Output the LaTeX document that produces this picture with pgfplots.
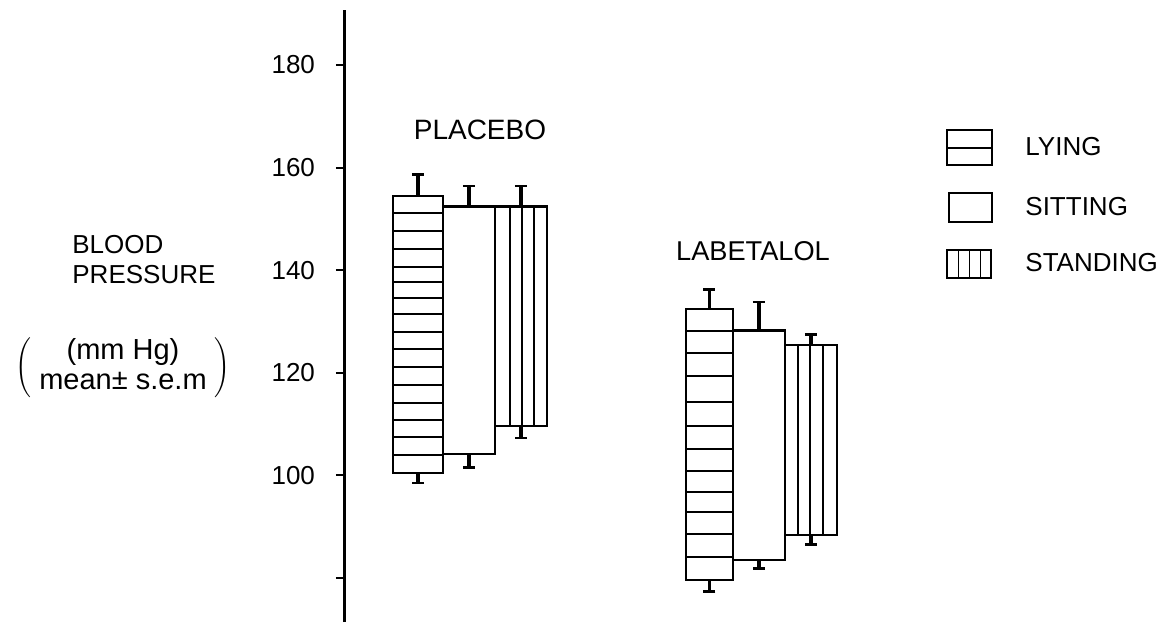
\documentclass[border=0pt]{standalone}
\usepackage{pgfplots}
\pgfplotsset{compat=1.18}
\usepackage{fontspec}
\setmainfont{Liberation Sans}
\begin{document}
\fontsize{13}{15}\selectfont
\begin{tikzpicture}
\begin{axis}[
  scale only axis, width=409pt, height=306pt,
  xmin=345, xmax=1163, ymin=71.42, ymax=190.72,
  axis x line=none, axis y line*=left,
  y axis line style={line width=1.5pt},
  ytick={80,100,120,140,160,180},
  yticklabels={,100,120,140,160,180},
  yticklabel style={xshift=-6pt},
  tick align=outside, major tick length=4.5pt,
  tick style={line width=1pt, black},
  clip=false,
  unbounded coords=jump,
  every axis plot/.append style={mark=none},
  bar/.style={draw=black, fill=white, line width=1.3pt, mark=none},
  inner/.style={draw=black, line width=0.9pt, mark=none},
  legend style={draw=none, fill=none, at={(axis description cs:0.7274,0.812)}, anchor=north west,
    row sep=13pt, font=\fontsize{13}{15}\selectfont,
    /tikz/every odd column/.append style={column sep=14pt}},
  legend cell align=left,
]
% legend images
\addlegendimage{legend image code/.code={\draw[line width=1pt] (0pt,-8.75pt) rectangle (22.5pt,8.75pt); \draw[line width=0.9pt] (0pt,0pt)--(22.5pt,0pt);}}
\addlegendentry{LYING}
\addlegendimage{legend image code/.code={\draw[line width=1pt] (1pt,-7.25pt) rectangle (22.5pt,7.25pt);}}
\addlegendentry{SITTING}
\addlegendimage{legend image code/.code={\draw[line width=1pt] (0pt,-7pt) rectangle (22pt,7pt); \draw[line width=0.9pt] (5.5pt,-7pt)--(5.5pt,7pt) (11pt,-7pt)--(11pt,7pt) (16.5pt,-7pt)--(16.5pt,7pt);}}
\addlegendentry{STANDING}

% ---------- PLACEBO ----------
\addplot[bar] coordinates {(393,100.5)(393,154.5)(443,154.5)(443,100.5)} -- cycle;
\addplot[inner] coordinates {
 (393,151.15)(443,151.15)(443,nan)
 (393,147.64)(443,147.64)(443,nan)
 (393,144.13)(443,144.13)(443,nan)
 (393,140.62)(443,140.62)(443,nan)
 (393,137.70)(443,137.70)(443,nan)
 (393,134.58)(443,134.58)(443,nan)
 (393,131.46)(443,131.46)(443,nan)
 (393,127.95)(443,127.95)(443,nan)
 (393,124.64)(443,124.64)(443,nan)
 (393,121.13)(443,121.13)(443,nan)
 (393,117.62)(443,117.62)(443,nan)
 (393,114.11)(443,114.11)(443,nan)
 (393,110.80)(443,110.80)(443,nan)
 (393,107.49)(443,107.49)(443,nan)
 (393,103.98)(443,103.98)};
\addplot[bar] coordinates {(443,104.2)(443,152.4)(495,152.4)(495,104.2)} -- cycle;
\addplot[bar] coordinates {(495,109.6)(495,152.4)(547,152.4)(547,109.6)} -- cycle;
\addplot[inner] coordinates {
 (510,109.6)(510,152.4)(510,nan)
 (522,109.6)(522,152.4)(522,nan)
 (534,109.6)(534,152.4)};

% ---------- LABETALOL ----------
\addplot[bar] coordinates {(686,79.6)(686,132.4)(733,132.4)(733,79.6)} -- cycle;
\addplot[inner] coordinates {
 (686,128.15)(733,128.15)(733,nan)
 (686,123.86)(733,123.86)(733,nan)
 (686,119.38)(733,119.38)(733,nan)
 (686,114.31)(733,114.31)(733,nan)
 (686,109.63)(733,109.63)(733,nan)
 (686,105.15)(733,105.15)(733,nan)
 (686,100.86)(733,100.86)(733,nan)
 (686,96.76)(733,96.76)(733,nan)
 (686,92.86)(733,92.86)(733,nan)
 (686,88.58)(733,88.58)(733,nan)
 (686,84.09)(733,84.09)};
\addplot[bar] coordinates {(733,83.5)(733,128.2)(785,128.2)(785,83.5)} -- cycle;
\addplot[bar] coordinates {(785,88.4)(785,125.4)(837,125.4)(837,88.4)} -- cycle;
\addplot[inner] coordinates {
 (798,88.4)(798,125.4)(798,nan)
 (810,88.4)(810,125.4)(810,nan)
 (823,88.4)(823,125.4)};

% ---------- error bars (s.e.m.) ----------
\addplot[draw=none, mark=none, error bars/.cd, y dir=plus, y explicit,
  error bar style={draw=black, line width=1.6pt},
  error mark options={draw=black, rotate=90, mark size=3pt, line width=1.4pt}]
  coordinates {(418,154.5)+-(0,4.1) (469,152.4)+-(0,4.0) (521,152.4)+-(0,4.0)
               (709.5,132.4)+-(0,3.9) (759,128.2)+-(0,5.6) (811,125.4)+-(0,2.0)};
\addplot[draw=none, mark=none, error bars/.cd, y dir=minus, y explicit,
  error bar style={draw=black, line width=1.6pt},
  error mark options={draw=black, rotate=90, mark size=3pt, line width=1.4pt}]
  coordinates {(418,100.5)+-(0,2.0) (469,104.2)+-(0,2.6) (521,109.6)+-(0,2.3)
               (709.5,79.6)+-(0,2.3) (759,83.5)+-(0,1.7) (811,88.4)+-(0,1.8)};

% ---------- text ----------
\node[font=\fontsize{14}{16}\selectfont] at (axis cs:480,167.33) {PLACEBO};
\node[font=\fontsize{13.6}{16}\selectfont] at (axis cs:753,143.7) {LABETALOL};
\node[anchor=west, align=left, inner sep=0pt] at (axis cs:72,141.99) {BLOOD\\PRESSURE};
\node[inner sep=0pt, font=\fontsize{14.5}{16}\selectfont] at (axis cs:123,120.94)
  {$\left(\vcenter{\hbox{\begin{tabular}{@{\;}c@{\;}}(mm Hg)\\[-1pt]mean± s.e.m\end{tabular}}}\vphantom{\Bigg(}\right)$};
\end{axis}
\pgfresetboundingbox
\path ([xshift=-172.5pt]current axis.south west) rectangle ([yshift=5pt]current axis.north east);
\end{tikzpicture}
\end{document}
